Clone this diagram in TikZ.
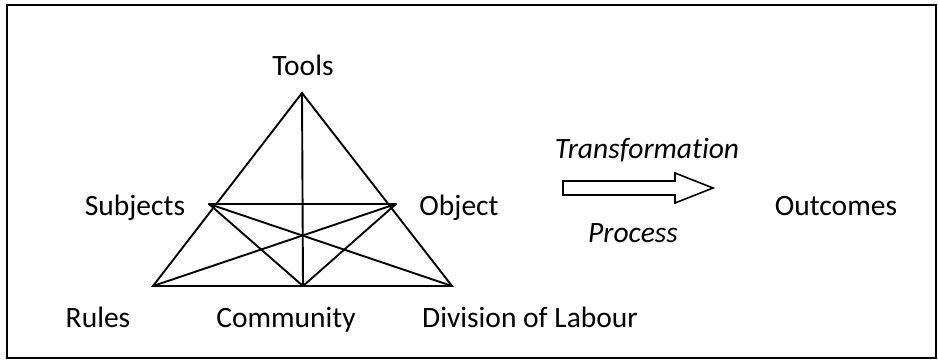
\documentclass[tikz,border=0pt]{standalone}
\usepackage{fontspec}
\setmainfont{Carlito}[Ligatures=NoCommon]
\begin{document}
\begin{tikzpicture}[x=1pt,y=-1pt,
  lbl/.style={anchor=base,inner sep=0pt,font=\fontsize{29.5}{34}\selectfont},
  edge/.style={line width=1.9pt,line cap=round}]
\useasboundingbox (0,0) rectangle (938,360);
\draw[line width=1.8pt] (7,5) rectangle (936,358);
% vertices
\coordinate (T) at (302,93);
\coordinate (S) at (209,204);
\coordinate (O) at (396,204);
\coordinate (R) at (153,286);
\coordinate (C) at (303,286);
\coordinate (D) at (452,286);
% edges
\draw[edge] (T) -- (R) -- (D) -- cycle;
\draw[edge] (T) -- (C);
\draw[edge] (S) -- (O);
\draw[edge] (S) -- (C);
\draw[edge] (S) -- (D);
\draw[edge] (O) -- (R);
\draw[edge] (O) -- (C);
% labels
\node[lbl] (tools) at (303,75) {Tools};
\node[lbl] (subj) at (135,215) {Subjects};
\node[lbl] (obj) at (459,215) {Object};
\node[lbl] (rules) at (98,327) {Rules};
\node[lbl] (comm) at (286,327) {Community};
\node[lbl] (div) at (530,327) {Division of Labour};
\node[lbl] (out) at (836,215) {Outcomes};
\node[lbl,font=\fontsize{29.5}{34}\selectfont\itshape] (trans) at (647,158) {Transformation};
\node[lbl,font=\fontsize{29.5}{34}\selectfont\itshape] (proc) at (633,242) {Process};
% block arrow
\draw[line width=1.6pt,line join=miter] (563,181) -- (675,181) -- (675,173) -- (713,188) -- (675,203) -- (675,195) -- (563,195) -- cycle;
\end{tikzpicture}
\end{document}
